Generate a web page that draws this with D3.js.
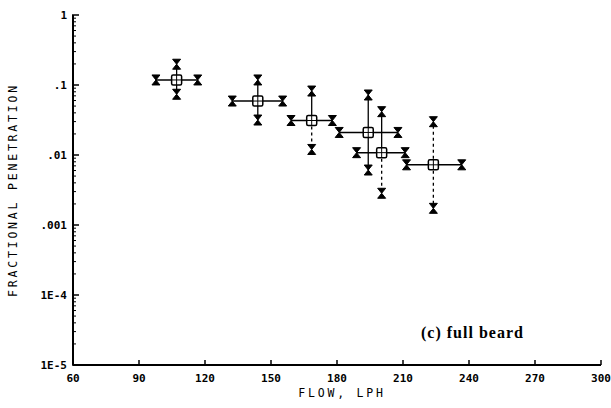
<!DOCTYPE html>
<html><head><meta charset="utf-8">
<script src="https://cdn.jsdelivr.net/npm/d3@7"></script>
<style>
body{margin:0;background:#fff;}
svg{display:block;}
.t{font-family:"DejaVu Sans Mono",monospace;font-weight:bold;fill:#000;}
</style></head>
<body>
<svg id="c" width="611" height="408"></svg>
<script>
// Data
const flow      = [107.1, 144.0, 168.5, 194.2, 200.3, 223.8];
const flowLow   = [97.7, 132.4, 159.1, 181.0, 188.9, 211.6];
const flowHigh  = [116.7, 155.3, 177.9, 207.7, 211.0, 236.7];
const pen       = [0.118, 0.059, 0.0311, 0.021, 0.0108, 0.00724];
const penHigh   = [0.198, 0.118, 0.082, 0.072, 0.0416, 0.0299];
const penLow    = [0.0737, 0.0316, 0.012, 0.0061, 0.00284, 0.00173];
const xTicks = [60, 90, 120, 150, 180, 210, 240, 270, 300];
const xTickLabels = ["60","90","120","150","180","210","240","270","300"];
const yTicks = [1, 0.1, 0.01, 0.001, 1e-4, 1e-5];
const yTickLabels = ["1", ".1", ".01", ".001", "1E-4", "1E-5"];

const svg = d3.select("#c");
const x = d3.scaleLinear().domain([60, 300]).range([73, 601]);
const y = d3.scaleLog().domain([1e-5, 1]).range([365, 15]);

// axes lines
svg.append("line").attr("x1", x(60)).attr("x2", x(300)).attr("y1", y(1e-5)).attr("y2", y(1e-5)).attr("stroke","#000").attr("stroke-width",2);
svg.append("line").attr("x1", x(60)).attr("x2", x(60)).attr("y1", y(1e-5)).attr("y2", y(1)).attr("stroke","#000").attr("stroke-width",2);

// x ticks
const xg = svg.append("g");
xTicks.forEach((v,i)=>{
  xg.append("line").attr("x1",x(v)).attr("x2",x(v)).attr("y1",y(1e-5)).attr("y2",y(1e-5)-5).attr("stroke","#000").attr("stroke-width",1.5);
  xg.append("text").attr("class","t").attr("x",x(v)).attr("y",382).attr("text-anchor","middle").attr("font-size",11).text(xTickLabels[i]);
});
svg.append("text").attr("class","t").attr("x",342).attr("y",397).attr("text-anchor","middle").attr("font-size",11.5).attr("letter-spacing",2.8).style("font-weight","normal").text("FLOW, LPH");

// y ticks
const yg = svg.append("g");
yTicks.forEach((v,i)=>{
  yg.append("line").attr("x1",x(60)-1).attr("x2",x(60)+6).attr("y1",y(v)).attr("y2",y(v)).attr("stroke","#000").attr("stroke-width",1.5);
  yg.append("text").attr("class","t").attr("x",67).attr("y",y(v)+4).attr("text-anchor","end").attr("font-size",11).text(yTickLabels[i]);
});
for (let e=-5;e<0;e++){
  for (let m=2;m<=9;m++){
    const v = m*Math.pow(10,e);
    yg.append("line").attr("x1",x(60)).attr("x2",x(60)+3).attr("y1",y(v)).attr("y2",y(v)).attr("stroke","#000").attr("stroke-width",1);
  }
}
svg.append("text").attr("class","t").attr("transform","translate(17,190) rotate(-90)").attr("text-anchor","middle").attr("font-size",11.5).attr("letter-spacing",2.8).style("font-weight","normal").text("FRACTIONAL PENETRATION");

// error bars
const eg = svg.append("g");
const dashDown = [false,false,true,false,true,true];
const dashUp = [false,false,false,false,false,true];
function hourglass(cx, cy){
  const w=4, h=5;
  return `M${cx-w},${cy-h}H${cx+w}L${cx},${cy}L${cx+w},${cy+h}H${cx-w}L${cx},${cy}Z`;
}
flow.forEach((f,i)=>{
  const cx=x(f), cy=y(pen[i]);
  eg.append("line").attr("x1",x(flowLow[i])).attr("x2",x(flowHigh[i])).attr("y1",cy).attr("y2",cy).attr("stroke","#000").attr("stroke-width",1.5);
  eg.append("line").attr("x1",cx).attr("x2",cx).attr("y1",cy).attr("y2",y(penHigh[i])).attr("stroke","#000").attr("stroke-width",1.3).attr("stroke-dasharray",dashUp[i]?"3,3":null);
  eg.append("line").attr("x1",cx).attr("x2",cx).attr("y1",cy).attr("y2",y(penLow[i])).attr("stroke","#000").attr("stroke-width",1.3).attr("stroke-dasharray",dashDown[i]?"3,3":null);
  [[x(flowLow[i]),cy],[x(flowHigh[i]),cy],[cx,y(penHigh[i])],[cx,y(penLow[i])]].forEach(p=>{
    eg.append("path").attr("d",hourglass(p[0],p[1])).attr("fill","#000").attr("stroke","#000").attr("stroke-width",1);
  });
  eg.append("rect").attr("x",cx-5).attr("y",cy-5).attr("width",10).attr("height",10).attr("rx",1.5).attr("fill","#fff").attr("stroke","#000").attr("stroke-width",1.5);
  eg.append("line").attr("x1",cx-5).attr("x2",cx+5).attr("y1",cy).attr("y2",cy).attr("stroke","#000").attr("stroke-width",1);
  eg.append("line").attr("x1",cx).attr("x2",cx).attr("y1",cy-5).attr("y2",cy+5).attr("stroke","#000").attr("stroke-width",1);
});

svg.append("text").attr("x",421).attr("y",338).attr("font-family","Liberation Serif, serif").attr("font-weight","bold").attr("font-size",16).attr("letter-spacing",1).attr("fill","#000").text("(c) full beard");
</script>
</body></html>
